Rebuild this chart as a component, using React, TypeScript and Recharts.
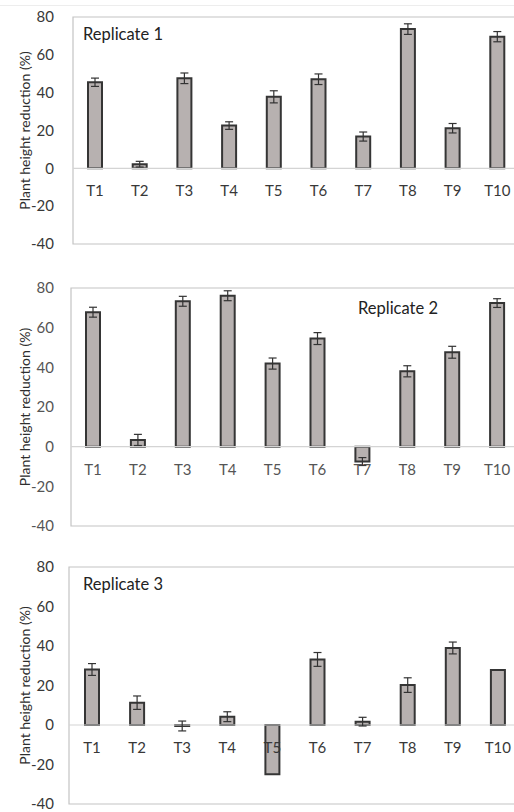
import {
  Bar,
  BarChart,
  ErrorBar,
  LabelList,
  ReferenceArea,
  ReferenceLine,
  XAxis,
  YAxis,
} from "recharts";

const CATEGORIES = ["T1", "T2", "T3", "T4", "T5", "T6", "T7", "T8", "T9", "T10"];
const Y_TICKS = [-40, -20, 0, 20, 40, 60, 80];

const REP1_VALUES = [45.5, 2.2, 47.6, 22.6, 37.8, 47.1, 16.8, 73.6, 21.2, 69.6];
const REP1_ERRORS = [2.2, 1.5, 2.8, 2.0, 3.2, 2.8, 2.4, 2.8, 2.5, 2.7];

const REP2_VALUES = [67.8, 3.4, 73.3, 76.1, 41.9, 54.5, -7.5, 38.0, 47.6, 72.4];
const REP2_ERRORS = [2.5, 2.8, 2.5, 2.5, 2.8, 3.0, 2.0, 2.8, 3.0, 2.2];

const REP3_VALUES = [28.1, 11.3, -0.5, 4.2, -24.9, 33.2, 1.7, 20.2, 39.0, 27.8];
const REP3_ERRORS = [3.0, 3.4, 2.5, 2.5, 0, 3.5, 2.2, 3.7, 3.0, 0];

const FONT = "Lato, 'Open Sans', sans-serif";
const BAR_FILL = "#b7b1b0";
const BAR_STROKE = "#353535";
const FRAME = "#c4c4c4";

interface PanelProps {
  title: string;
  values: number[];
  errors: number[];
  top: number;
  height: number;
  plotTop: number;
  plotBottom: number;
  plotLeft: number;
  titleX: number;
  titleY: number;
  tickColor: string;
}

function ReplicatePanel({
  title,
  values,
  errors,
  top,
  height,
  plotTop,
  plotBottom,
  plotLeft,
  titleX,
  titleY,
  tickColor,
}: PanelProps) {
  const data = CATEGORIES.map((name, i) => ({
    name,
    value: values[i],
    err: errors[i],
  }));

  // category names sit just under the zero line, like an axis crossing at 0
  const renderCategory = (props: any) => {
    const box = props.viewBox ?? props;
    const { x, y, width, height: h } = box;
    const idx = CATEGORIES.indexOf(props.value);
    const v = idx >= 0 ? data[idx].value : 0;
    const lo = Math.min(y, y + h);
    const hi = Math.max(y, y + h);
    const zero = v >= 0 ? hi : lo;
    return (
      <text
        x={x + width / 2}
        y={zero + 22}
        textAnchor="middle"
        dominantBaseline="central"
        fill={tickColor}
        fontSize={15}
        fontFamily={FONT}
      >
        {props.value}
      </text>
    );
  };

  const renderAxisTitle = (props: any) => {
    const vb = props.viewBox;
    const cx = vb.x + 24;
    const cy = vb.y + vb.height / 2;
    return (
      <text
        x={cx}
        y={cy}
        transform={`rotate(-90 ${cx} ${cy})`}
        textAnchor="middle"
        dominantBaseline="central"
        fill="#2e2e2e"
        fontSize={14}
        fontFamily={FONT}
      >
        Plant height reduction (%)
      </text>
    );
  };

  return (
    <div style={{ position: "absolute", left: 0, top, width: 514, height }}>
      <BarChart
        width={522}
        height={height}
        data={data}
        margin={{ top: plotTop, bottom: height - plotBottom, left: 0, right: 2 }}
      >
        <XAxis dataKey="name" hide />
        <YAxis
          domain={[-40, 80]}
          ticks={Y_TICKS}
          interval={0}
          axisLine={false}
          tickLine={false}
          tickSize={0}
          tickMargin={plotLeft - 54}
          width={plotLeft}
          tick={{ fill: tickColor, fontSize: 15, fontFamily: FONT }}
          label={{ content: renderAxisTitle }}
        />
        <ReferenceArea y1={-40} y2={80} fill="none" stroke={FRAME} strokeWidth={1.2} />
        <ReferenceLine y={0} stroke="#d4d4d4" strokeWidth={1.2} />
        <Bar
          dataKey="value"
          fill={BAR_FILL}
          stroke={BAR_STROKE}
          strokeWidth={2}
          barSize={14}
          isAnimationActive={false}
        >
          <ErrorBar dataKey="err" width={4} stroke="#333" strokeWidth={1.2} />
          <LabelList dataKey="name" content={renderCategory} />
        </Bar>
      </BarChart>
      <div
        style={{
          position: "absolute",
          left: titleX,
          top: titleY,
          transform: "translateY(-50%)",
          fontFamily: FONT,
          fontSize: 16.5,
          color: "#222",
          whiteSpace: "nowrap",
        }}
      >
        {title}
      </div>
    </div>
  );
}

export default function App() {
  return (
    <div
      style={{
        position: "absolute",
        left: 0,
        top: 0,
        width: 514,
        height: 812,
        overflow: "hidden",
        background: "#fff",
      }}
    >
      <div
        style={{
          position: "absolute",
          left: 0,
          right: 0,
          top: 5,
          borderTop: "1px solid #ededed",
        }}
      />
      <ReplicatePanel
        title="Replicate 1"
        values={REP1_VALUES}
        errors={REP1_ERRORS}
        top={0}
        height={260}
        plotTop={17}
        plotBottom={244}
        plotLeft={73}
        titleX={83}
        titleY={34}
        tickColor="#383838"
      />
      <ReplicatePanel
        title="Replicate 2"
        values={REP2_VALUES}
        errors={REP2_ERRORS}
        top={260}
        height={280}
        plotTop={28}
        plotBottom={266}
        plotLeft={71}
        titleX={358}
        titleY={48}
        tickColor="#555"
      />
      <ReplicatePanel
        title="Replicate 3"
        values={REP3_VALUES}
        errors={REP3_ERRORS}
        top={540}
        height={272}
        plotTop={27}
        plotBottom={264}
        plotLeft={69}
        titleX={83}
        titleY={44}
        tickColor="#383838"
      />
    </div>
  );
}
